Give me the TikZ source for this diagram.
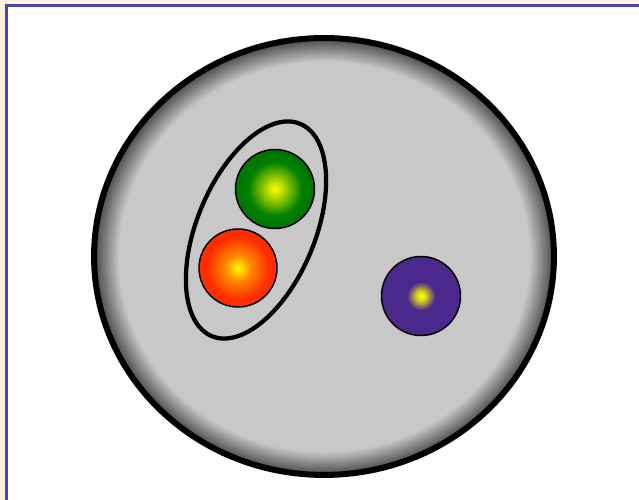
\documentclass[tikz,border=0pt]{standalone}
\definecolor{pagecream}{RGB}{253, 243, 224}
\definecolor{frameblue}{RGB}{72, 72, 176}
\definecolor{cellgray}{RGB}{200, 200, 200}
\definecolor{ballgreen}{RGB}{0, 128, 0}
\definecolor{ballred}{RGB}{255, 45, 0}
\definecolor{ballpurple}{RGB}{75, 40, 140}
\definecolor{glowyellow}{RGB}{255, 255, 0}
\usepackage{tikz}
\usetikzlibrary{shapes.geometric}
% 25bp is the rim of the shaded shape
\pgfdeclareradialshading{cellshade}{\pgfpoint{0bp}{0bp}}{color(0bp)=(cellgray); color(22.3bp)=(cellgray); color(25bp)=(black!72); color(50bp)=(black!72)}
\pgfdeclareradialshading{greenglow}{\pgfpoint{0bp}{0bp}}{color(0bp)=(glowyellow); color(7bp)=(glowyellow!60!ballgreen); color(17bp)=(ballgreen); color(25bp)=(ballgreen!90!black); color(50bp)=(ballgreen!90!black)}
\pgfdeclareradialshading{redglow}{\pgfpoint{0bp}{0bp}}{color(0bp)=(glowyellow); color(8bp)=(orange!90!yellow); color(20bp)=(ballred); color(25bp)=(ballred); color(50bp)=(ballred)}
\pgfdeclareradialshading{purpleglow}{\pgfpoint{0bp}{0bp}}{color(0bp)=(glowyellow); color(2.5bp)=(glowyellow!85!ballpurple); color(9bp)=(ballpurple); color(50bp)=(ballpurple)}

\begin{document}
\begin{tikzpicture}[
  x=0.02cm, y=0.02cm,
  cellbody/.style={draw, ellipse, line width=0.12cm, shading=cellshade, inner sep=0pt},
  pairring/.style={draw, ellipse, line width=0.085cm, inner sep=0pt},
  ball/.style={draw, circle, line width=0.03cm, inner sep=0pt, minimum size=1.58cm}
]
  \useasboundingbox (0, 0) rectangle (639, 500);
  \clip (0, 0) rectangle (639, 500);

  % Frame
  \fill[pagecream] (0, 0) rectangle (639, 500);
  \fill[white] (6.5, -50) rectangle (700, 494.5);
  \draw[frameblue, line width=0.06cm] (6.5, -50) |- (700, 494.5);

  % Cell
  \node[cellbody, minimum width=9.2cm, minimum height=8.74cm] (cell) at (324, 243.5) {};

  % Pair
  \node[pairring, minimum width=2.36cm, minimum height=4.6cm, rotate=-22.6] (pair) at (256, 270) {};
  \node[ball, shading=greenglow] (green) at (275, 311) {};
  \node[ball, shading=redglow, minimum size=1.56cm] (red) at (238, 232) {};

  % Single
  \node[ball, shading=purpleglow] (purple) at (421, 204) {};
\end{tikzpicture}
\end{document}
